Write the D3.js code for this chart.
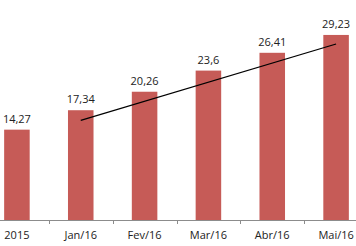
<!DOCTYPE html>
<html>
  <head>
    <meta charset="utf-8" />
    <script src="https://cdn.jsdelivr.net/npm/d3@7"></script>
    <style>
      body { margin: 0; background: #ffffff; }
      .bar { fill: #c65b57; }
      .label { font-family: "Open Sans", sans-serif; font-size: 11px; fill: #222; }
      .axis path, .axis line { stroke: #8c8c8c; }
      .axis text { font-family: "Open Sans", sans-serif; font-size: 11px; fill: #222; }
      .trend { stroke: #000; stroke-width: 1.3; fill: none; }
    </style>
  </head>
  <body>
    <div id="chart"></div>
    <script type="text/javascript">
      var w = 356, h = 246;

      var categories = ["2015", "Jan/16", "Fev/16", "Mar/16", "Abr/16", "Mai/16"];
      var values = [14.27, 17.34, 20.26, 23.6, 26.41, 29.23];
      var labels = ["14,27", "17,34", "20,26", "23,6", "26,41", "29,23"];
      // trend line drawn from Jan/16 to Mai/16
      var trendCats = ["Jan/16", "Mai/16"];
      var trendVals = [15.75, 27.8];

      var svg = d3.select("#chart")
        .append("svg")
        .attr("width", w)
        .attr("height", h);

      var x = d3.scaleBand()
        .domain(categories)
        .range([-15, 368])
        .paddingInner(0.6)
        .paddingOuter(0.3);

      var y = d3.scaleLinear()
        .domain([0, 34.75])
        .range([220, 0]);

      svg.selectAll("rect.bar").data(values)
        .enter()
        .append("rect")
        .attr("class", "bar")
        .attr("x", function(d, i) { return x(categories[i]); })
        .attr("width", x.bandwidth())
        .attr("y", function(d) { return y(d); })
        .attr("height", function(d) { return y(0) - y(d); });

      svg.selectAll("text.label").data(values)
        .enter()
        .append("text")
        .attr("class", "label")
        .attr("text-anchor", "middle")
        .attr("x", function(d, i) { return x(categories[i]) + x.bandwidth() / 2; })
        .attr("y", function(d) { return y(d) - 7; })
        .text(function(d, i) { return labels[i]; });

      // baseline axis with ticks at category boundaries
      var axis = svg.append("g").attr("class", "axis");
      axis.append("line")
        .attr("x1", 0).attr("x2", w)
        .attr("y1", y(0) + 0.5).attr("y2", y(0) + 0.5);
      var step = x.step();
      axis.selectAll("line.tick").data(categories.slice(1))
        .enter()
        .append("line")
        .attr("class", "tick")
        .attr("x1", function(d) { return Math.round(x(d) + x.bandwidth() / 2 - step / 2) + 0.5; })
        .attr("x2", function(d) { return Math.round(x(d) + x.bandwidth() / 2 - step / 2) + 0.5; })
        .attr("y1", y(0)).attr("y2", y(0) + 4);
      axis.selectAll("text").data(categories)
        .enter()
        .append("text")
        .attr("text-anchor", "middle")
        .attr("x", function(d) { return x(d) + x.bandwidth() / 2; })
        .attr("y", 239)
        .text(function(d) { return d; });

      var line = d3.line()
        .x(function(d, i) { return x(trendCats[i]) + x.bandwidth() / 2; })
        .y(function(d) { return y(d); });

      svg.append("path")
        .datum(trendVals)
        .attr("class", "trend")
        .attr("d", line);
    </script>
  </body>
</html>
